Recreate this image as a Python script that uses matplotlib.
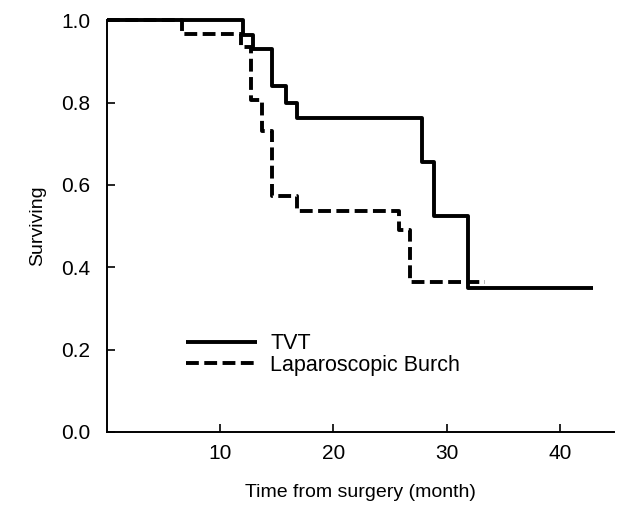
import matplotlib
matplotlib.use("Agg")
import matplotlib.pyplot as plt

plt.rcParams['font.family'] = ['Liberation Sans', 'DejaVu Sans']

# TVT Kaplan-Meier curve (time in months, surviving fraction)
tvt_time = [0, 12.0, 12.9, 14.6, 15.8, 16.8, 27.8, 28.9, 31.9, 42.9]
tvt_surv = [1.0, 0.963, 0.930, 0.840, 0.800, 0.762, 0.655, 0.525, 0.350, 0.350]

# Laparoscopic Burch Kaplan-Meier curve
burch_time = [0, 6.6, 11.8, 12.7, 13.7, 14.6, 16.8, 25.8, 26.8, 33.4]
burch_surv = [1.0, 0.967, 0.935, 0.806, 0.730, 0.573, 0.537, 0.490, 0.364, 0.364]

labels = ["TVT", "Laparoscopic Burch"]
x_ticks = [10, 20, 30, 40]
y_ticks = [0.0, 0.2, 0.4, 0.6, 0.8, 1.0]

fig = plt.figure(figsize=(6.18, 5.05), dpi=100)
ax = fig.add_axes([0.173, 0.1446, 0.821, 0.8154])

ax.step(tvt_time, tvt_surv, where='post', color='black', lw=2.8,
        solid_capstyle='butt', clip_on=False, label=labels[0])
ax.step(burch_time, burch_surv, where='post', color='black', lw=2.8,
        dashes=(3.3, 1.4), dash_capstyle='butt', clip_on=False, label=labels[1])

ax.set_xlim(0, 44.8)
ax.set_ylim(0, 1.0)
ax.set_xticks(x_ticks)
ax.set_yticks(y_ticks)
ax.set_yticklabels([f"{v:.1f}" for v in y_ticks])
ax.tick_params(direction='in', length=6, width=1.2, labelsize=15)
ax.tick_params(axis='x', pad=9)
ax.tick_params(axis='y', pad=12)
for s in ['top', 'right']:
    ax.spines[s].set_visible(False)
for s in ['left', 'bottom']:
    ax.spines[s].set_linewidth(1.4)

ax.set_xlabel("Time from surgery (month)", fontsize=14, labelpad=15)
ax.set_ylabel("Surviving", fontsize=14, labelpad=11)

ax.legend(loc='upper left', bbox_to_anchor=(0.156, 0.240), frameon=False,
          borderaxespad=0, borderpad=0, handlelength=3.3, handletextpad=0.6,
          labelspacing=0.02, fontsize=15.5)

fig.savefig("out.png", dpi=100)
